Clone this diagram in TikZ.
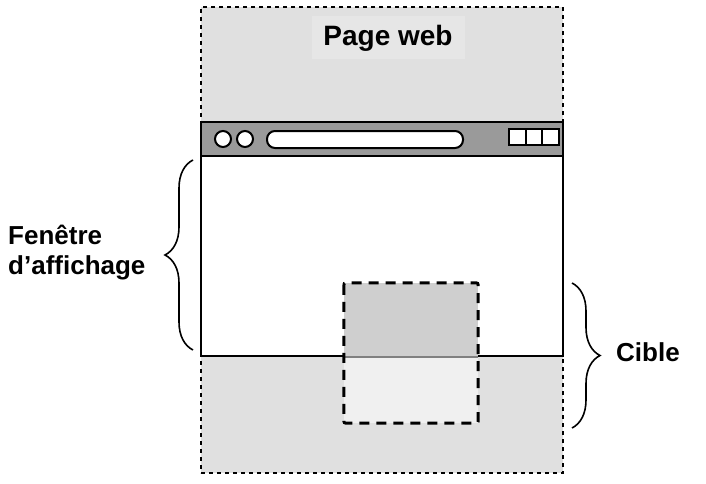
\documentclass[tikz,border=0pt]{standalone}
\usepackage{fontspec}
\setmainfont{Liberation Sans}
\usetikzlibrary{decorations.pathreplacing,calc}
\definecolor{pagegray}{HTML}{E0E0E0}
\definecolor{labelgray}{HTML}{E6E6E6}
\definecolor{bargray}{HTML}{9A9A9A}
\definecolor{upgray}{HTML}{CFCFCF}
\definecolor{lowgray}{HTML}{F0F0F0}
\tikzset{
  font=\bfseries\fontsize{26}{30}\selectfont,
  pagebox/.style={
    draw,
    line width=2pt,
    dash pattern=on 4pt off 4pt,
    fill=pagegray,
    inner sep=0pt
  },
  winbox/.style={
    draw,
    line width=2pt,
    fill=white,
    inner sep=0pt
  },
  barbox/.style={
    draw,
    line width=2pt,
    fill=bargray,
    inner sep=0pt
  },
  knob/.style={
    draw,
    circle,
    line width=2pt,
    fill=white,
    minimum size=16pt,
    inner sep=0pt
  },
  urlbox/.style={
    draw,
    line width=2pt,
    fill=white,
    rounded corners=8pt,
    minimum width=196pt,
    minimum height=17pt,
    inner sep=0pt
  },
  cell/.style={
    draw,
    line width=2pt,
    fill=white,
    minimum width=16.7pt,
    minimum height=16pt,
    inner sep=0pt
  },
  title/.style={
    fill=labelgray,
    minimum width=153pt,
    minimum height=43pt,
    font=\bfseries\fontsize{28}{32}\selectfont
  },
  side/.style={
    align=left,
    anchor=west,
    inner sep=0pt
  },
  brace/.style={
    decorate,
    decoration={brace, amplitude=28pt},
    line width=1.6pt
  },
  targetline/.style={
    line width=3pt,
    dash pattern=on 10pt off 7pt,
    rounded corners=2pt
  }
}
\begin{document}
\begin{tikzpicture}[x=1pt, y=-1pt]
\useasboundingbox (0,0) rectangle (706,484);

% --- Page and its title
\node[pagebox, minimum width=362pt, minimum height=466pt] (page) at (382,240) {};
\node[title] (pagetitle) at (388,38) {Page web};

% --- Browser window
\node[winbox, minimum width=362pt, minimum height=234pt] (window) at (382,239) {};
\node[barbox, minimum width=362pt, minimum height=34pt] (bar) at (382,139) {};
\node[knob] (knobA) at (223,139) {};
\node[knob] (knobB) at (245,139) {};
\node[urlbox] (url) at (365,139.5) {};
\node[cell] (cellA) at (517.3,137) {};
\node[cell] (cellB) at (534,137) {};
\node[cell] (cellC) at (550.7,137) {};

% --- Target
\path node[minimum width=134pt, minimum height=140pt, inner sep=0pt] (cible) at (411,353) {};
\coordinate (cutW) at (cible.west |- window.south);
\coordinate (cutE) at (cible.east |- window.south);
\fill[upgray] (cible.north west) rectangle (cutE);
\fill[lowgray] (cutW) rectangle (cible.south east);
\draw[line width=2pt, gray] (cutW) -- (cutE);
\draw[targetline] (cible.north west) rectangle (cible.south east);

% --- Braces and labels
\coordinate (vptop) at (193,160);
\coordinate (vpbot) at (193,350);
\draw[brace] (vpbot) -- (vptop);
\node[side] (vplabel) at (8,253) {Fenêtre\\d’affichage};

\coordinate (cbtop) at (572,283);
\coordinate (cbbot) at (572,428);
\draw[brace] (cbtop) -- (cbbot);
\node[side] (cblabel) at (616,352) {Cible};

\end{tikzpicture}
\end{document}
